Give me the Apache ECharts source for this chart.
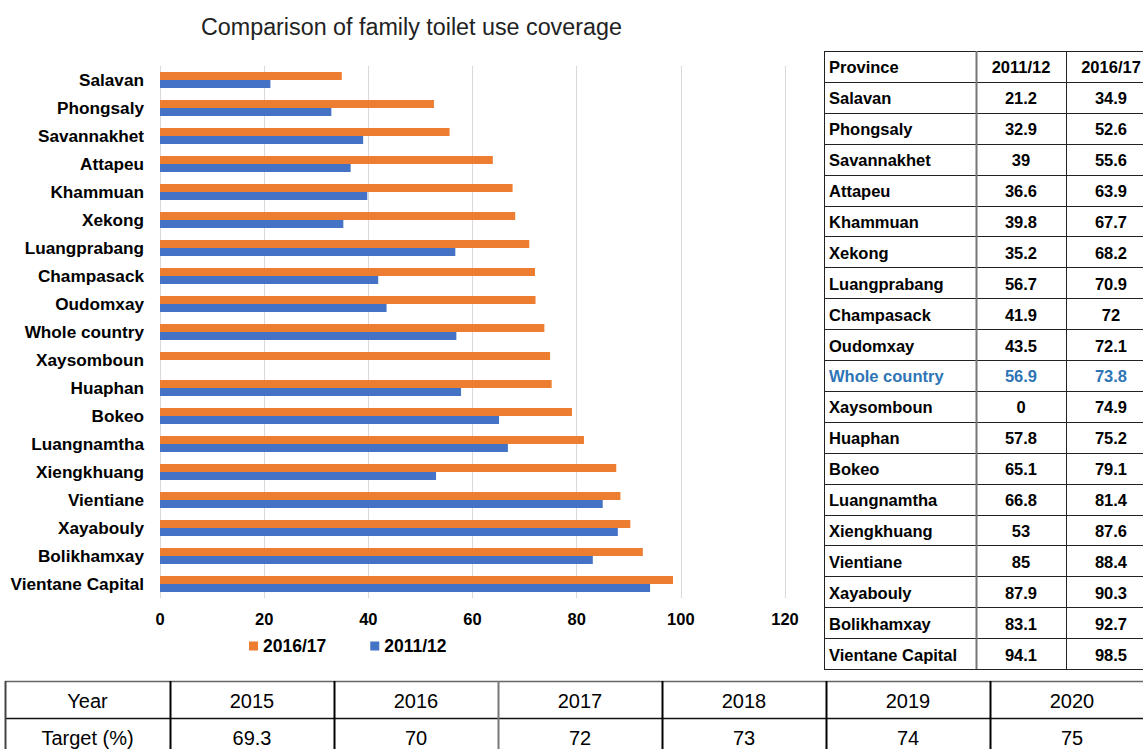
<!DOCTYPE html>
<html>
<head>
<meta charset="utf-8">
<script src="https://cdn.jsdelivr.net/npm/echarts@6/dist/echarts.min.js"></script>
<style>
  html, body { margin: 0; padding: 0; background: #fff; }
  #chart { width: 1143px; height: 749px; }
</style>
</head>
<body>
<div id="chart"></div>
<script>
// Provinces, top to bottom
const provinces = ['Salavan', 'Phongsaly', 'Savannakhet', 'Attapeu', 'Khammuan', 'Xekong',
  'Luangprabang', 'Champasack', 'Oudomxay', 'Whole country', 'Xaysomboun', 'Huaphan',
  'Bokeo', 'Luangnamtha', 'Xiengkhuang', 'Vientiane', 'Xayabouly', 'Bolikhamxay', 'Vientane Capital'];
// Coverage (%) per survey round
const cov2011 = [21.2, 32.9, 39, 36.6, 39.8, 35.2, 56.7, 41.9, 43.5, 56.9, 0, 57.8, 65.1, 66.8, 53, 85, 87.9, 83.1, 94.1];
const cov2016 = [34.9, 52.6, 55.6, 63.9, 67.7, 68.2, 70.9, 72, 72.1, 73.8, 74.9, 75.2, 79.1, 81.4, 87.6, 88.4, 90.3, 92.7, 98.5];
const seriesNames = ['2016/17', '2011/12'];
const tableHeader = ['Province', '2011/12', '2016/17'];
const highlightRow = 'Whole country';
// National targets
const targetYears = ['2015', '2016', '2017', '2018', '2019', '2020'];
const targetValues = ['69.3', '70', '72', '73', '74', '75'];
const targetRowLabels = ['Year', 'Target (%)'];

const ORANGE = '#ED7D31';
const BLUE = '#4472C4';
const FONT = '"Liberation Sans", Arial, sans-serif';

// ---- province table (right) ----
const graphics = [];
const pt = { x: 824, y: 51, cols: [152, 90, 90], rowH: 30.9 };
const ptRows = [tableHeader].concat(provinces.map((p, i) => [p, String(cov2011[i]), String(cov2016[i])]));
const ptW = pt.cols.reduce((a, b) => a + b, 0);
ptRows.forEach((row, r) => {
  const y = pt.y + r * pt.rowH;
  let x = pt.x;
  const color = row[0] === highlightRow ? '#2E75B6' : '#000';
  row.forEach((cell, c) => {
    const w = pt.cols[c];
    graphics.push({
      type: 'text', silent: true,
      style: {
        text: cell, x: c === 0 ? x + 5 : x + w / 2, y: y + pt.rowH / 2 + 1,
        align: c === 0 ? 'left' : 'center', verticalAlign: 'middle',
        font: 'bold 16.5px ' + FONT, fill: color
      }
    });
    x += w;
  });
});
for (let r = 0; r <= ptRows.length; r++) {
  const y = Math.round(pt.y + r * pt.rowH) + 0.5;
  graphics.push({ type: 'line', silent: true, shape: { x1: pt.x, y1: y, x2: pt.x + ptW, y2: y },
    style: { stroke: '#222', lineWidth: 1 } });
}
{
  let x = pt.x;
  const colStroke = ['#222', '#777', '#222', '#222'];
  const colWidth = [1, 2, 1, 1];
  for (let c = 0; c <= pt.cols.length; c++) {
    graphics.push({ type: 'line', silent: true,
      shape: { x1: x + 0.5, y1: pt.y, x2: x + 0.5, y2: pt.y + ptRows.length * pt.rowH },
      style: { stroke: colStroke[c], lineWidth: colWidth[c] } });
    if (c < pt.cols.length) x += pt.cols[c];
  }
}

// ---- target table (bottom) ----
const tt = { x: 5, y: 681, firstW: 165, colW: 164, rowH: 37 };
const ttRows = [[targetRowLabels[0]].concat(targetYears), [targetRowLabels[1]].concat(targetValues)];
const ttW = tt.firstW + tt.colW * targetYears.length;
ttRows.forEach((row, r) => {
  row.forEach((cell, c) => {
    const x = c === 0 ? tt.x : tt.x + tt.firstW + (c - 1) * tt.colW;
    const w = c === 0 ? tt.firstW : tt.colW;
    graphics.push({ type: 'text', silent: true,
      style: { text: cell, x: x + w / 2, y: tt.y + r * tt.rowH + tt.rowH / 2 + 1,
        align: 'center', verticalAlign: 'middle', font: '20px ' + FONT, fill: '#000' } });
  });
});
for (let r = 0; r <= ttRows.length; r++) {
  const y = tt.y + r * tt.rowH + 0.5;
  graphics.push({ type: 'line', silent: true, shape: { x1: tt.x, y1: y, x2: tt.x + ttW, y2: y },
    style: { stroke: r === 0 ? '#666' : '#111', lineWidth: 1.5 } });
}
{
  const vStroke = ['#444', '#000', '#000', '#777', '#000', '#000', '#000'];
  for (let c = 0; c <= targetYears.length; c++) {
    const x = c === 0 ? tt.x : tt.x + tt.firstW + (c - 1) * tt.colW;
    graphics.push({ type: 'line', silent: true,
      shape: { x1: x + 0.5, y1: tt.y, x2: x + 0.5, y2: tt.y + ttRows.length * tt.rowH },
      style: { stroke: vStroke[c], lineWidth: 2 } });
  }
}

const chart = echarts.init(document.getElementById('chart'), null, { renderer: 'svg' });
chart.setOption({
  backgroundColor: '#fff',
  animation: false,
  title: {
    text: 'Comparison of family toilet use coverage',
    left: 196, top: 10,
    textStyle: { fontFamily: FONT, fontSize: 23.3, fontWeight: 'normal', color: '#222' }
  },
  legend: {
    data: seriesNames,
    left: 244, top: 632,
    icon: 'rect', itemWidth: 9, itemHeight: 9, itemGap: 44,
    textStyle: { fontFamily: FONT, fontSize: 17.5, fontWeight: 'bold', color: '#000' }
  },
  grid: { left: 160, right: 358, top: 66, height: 532, containLabel: false },
  xAxis: {
    type: 'value', min: 0, max: 120, interval: 20,
    axisLine: { show: false }, axisTick: { show: false },
    splitLine: { lineStyle: { color: '#d9d9d9', width: 1 } },
    axisLabel: { margin: 12, fontFamily: FONT, fontSize: 16.5, fontWeight: 'bold', color: '#000' }
  },
  yAxis: {
    type: 'category', data: provinces, inverse: true,
    axisLine: { show: false }, axisTick: { show: false },
    axisLabel: { margin: 16, fontFamily: FONT, fontSize: 17.2, fontWeight: 'bold', color: '#000' }
  },
  series: [
    { name: seriesNames[0], type: 'bar', data: cov2016, barWidth: 8, barGap: '0%',
      itemStyle: { color: ORANGE } },
    { name: seriesNames[1], type: 'bar', data: cov2011, barWidth: 8, barGap: '0%',
      itemStyle: { color: BLUE } }
  ],
  graphic: graphics
});
</script>
</body>
</html>
